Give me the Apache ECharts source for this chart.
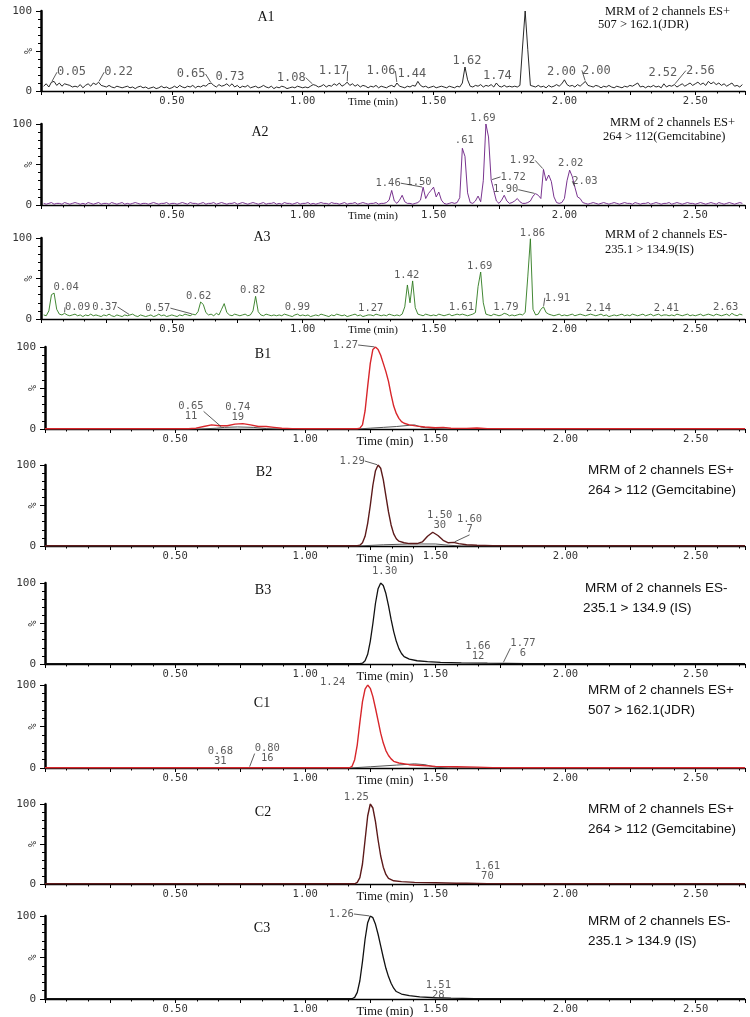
<!DOCTYPE html>
<html><head><meta charset="utf-8">
<script src="https://cdn.jsdelivr.net/npm/echarts@6/dist/echarts.min.js"></script>
<style>html,body{margin:0;padding:0;background:#fff}#c{width:750px;height:1017px}</style>
</head><body><div id="c"></div>
<script>
// ---------------- DATA ----------------
const T_MIN = 0, T_MAX = 2.69;
const SAMPLE_START = 0.01, SAMPLE_STEP = 0.01;
const xTickLabelValues = [0.5, 1.0, 1.5, 2.0, 2.5];
const yTickLabelValues = [0, 100];
const panelIds = ['A1','A2','A3','B1','B2','B3','C1','C2','C3'];
const channelTexts = [
  ['MRM of 2 channels ES+', '507 > 162.1(JDR)'],
  ['MRM of 2 channels ES+', '264 > 112(Gemcitabine)'],
  ['MRM of 2 channels ES-', '235.1 > 134.9(IS)'],
  null,
  ['MRM of 2 channels ES+', '264 > 112 (Gemcitabine)'],
  ['MRM of 2 channels ES-', '235.1 > 134.9 (IS)'],
  ['MRM of 2 channels ES+', '507 > 162.1(JDR)'],
  ['MRM of 2 channels ES+', '264 > 112 (Gemcitabine)'],
  ['MRM of 2 channels ES-', '235.1 > 134.9 (IS)']
];

// A panels: intensity (%) sampled every 0.01 min from 0.01 min
const A1_values = [
  6,9,5,11,12,7,10,6,9,8,   7,5,6,5,8,4,7,9,6,10,   8,11,7,6,5,7,5,4,6,5,
  4,5,6,4,5,3,5,6,4,5,   3,4,5,3,4,6,4,5,3,4,   6,4,7,5,4,6,5,7,4,6,
  5,7,6,9,10,7,5,8,6,7,   9,6,9,5,7,4,6,5,7,4,   5,6,4,5,7,5,4,6,3,5,
  4,6,5,3,4,5,4,6,5,4,   5,4,6,8,7,5,6,8,5,7,   6,9,7,10,6,8,11,7,9,6,
  8,5,7,6,4,6,5,7,4,6,   5,4,6,7,5,10,6,5,4,6,   5,7,6,12,7,5,6,4,5,6,
  4,5,6,5,4,6,5,4,6,5,   10,30,14,6,5,7,6,8,5,7,   6,8,5,10,6,5,7,5,6,5,
  6,5,7,55,100,52,7,6,5,7,   5,6,4,7,5,6,8,6,9,14,   8,6,7,5,8,6,9,12,7,6,
  5,7,6,4,6,5,7,5,4,6,   5,4,6,5,7,6,8,10,5,6,   4,6,5,7,5,6,4,9,5,7,
  6,8,5,7,9,6,8,10,7,9,   11,8,10,7,12,9,11,8,10,7,   9,6,8,10,6,7,5,8
];
const A2_values = [
  2,1,2,3,1,2,2,1,3,2,   1,2,3,2,1,2,1,3,2,1,   2,3,1,2,2,1,3,2,1,2,
  3,1,2,1,2,3,2,1,2,2,   1,2,3,2,1,2,2,3,1,2,   2,1,2,3,2,1,3,2,2,1,
  2,3,1,2,2,3,1,2,3,2,   1,2,2,3,1,2,3,2,1,2,   3,2,1,2,3,1,2,2,3,1,
  2,1,3,2,2,1,2,3,1,2,   2,3,1,2,1,2,3,2,2,1,   3,2,2,1,2,3,1,2,2,3,
  1,2,3,2,1,2,2,3,1,2,   2,3,6,18,5,2,6,12,4,2,   2,1,2,3,6,22,8,14,18,22,
  10,16,6,2,1,2,3,2,3,9,   70,60,15,3,2,5,11,4,30,100,   84,31,18,5,2,6,12,5,2,3,
  5,8,4,2,2,3,5,11,14,12,   8,44,30,37,29,10,3,2,3,8,   30,43,35,22,10,8,3,2,1,2,
  3,2,1,2,3,2,1,2,3,2,   1,2,3,2,2,1,3,2,1,2,   2,3,1,2,3,2,1,2,2,3,
  1,2,3,2,1,2,3,2,2,1,   2,3,2,1,2,3,2,1,3,2,   1,2,3,2,1,2,3,2
];
const A3_values = [
  5,4,10,30,32,12,6,5,7,5,   4,5,6,4,5,3,5,4,6,4,   5,4,3,5,4,6,4,3,5,4,
  3,5,4,5,6,4,3,5,4,3,   4,5,3,4,6,4,5,3,4,5,   4,3,5,4,6,5,4,6,5,9,
  21,18,8,5,6,4,7,5,12,19,   8,5,4,6,5,4,5,6,4,5,   10,28,9,5,4,6,5,4,5,4,
  5,4,6,5,4,3,5,6,4,5,   4,5,3,4,5,4,6,5,4,3,   5,4,6,5,4,5,3,4,5,6,
  4,5,3,4,5,5,4,6,5,4,   5,4,6,5,4,5,4,6,15,42,   20,47,14,6,5,4,6,5,4,5,
  4,6,5,4,5,6,4,5,6,5,   6,5,4,5,6,8,40,58,20,6,   5,4,6,5,4,5,7,6,4,5,
  4,5,6,5,8,52,99,12,5,6,   12,15,8,6,5,4,5,6,4,5,   4,5,6,4,5,6,5,4,5,6,
  5,4,5,6,4,5,3,4,5,4,   5,6,4,5,4,6,5,4,5,6,   4,5,6,4,5,6,4,5,5,4,
  5,4,6,5,4,5,6,4,5,4,   5,6,4,5,6,5,4,6,5,4,   5,6,4,7,5,4,6,5
];

// B / C panels: [time (min), intensity (%)]
const B1_red = [[0,0.3],[0.55,0.3],[0.58,1],[0.61,3],[0.64,5],[0.67,4],[0.70,4],[0.73,6],[0.76,6.5],[0.79,5],[0.82,3],[0.85,3],[0.88,2],[0.91,1],[0.95,0.5],[1.00,0.3],[1.20,0.3],[1.21,1],[1.22,5],[1.23,22],[1.24,52],[1.25,80],[1.26,97],[1.27,100],[1.28,97],[1.29,90],[1.30,80],[1.31,70],[1.32,58],[1.33,42],[1.34,28],[1.35,19],[1.36,13],[1.37,9],[1.38,7],[1.40,5],[1.43,3.5],[1.46,2.5],[1.50,1.5],[1.53,2],[1.56,1],[1.62,0.8],[1.66,1.2],[1.70,0.5],[1.80,0.3],[2.69,0.3]];
const B1_black = [[0,0],[0.60,0],[0.66,1],[0.69,2],[0.74,2.5],[0.80,2],[0.85,0.5],[0.90,0],[1.20,0],[1.25,1],[1.30,2],[1.35,3],[1.40,4.5],[1.42,5],[1.45,2],[1.50,0.5],[1.55,0],[2.69,0]];
const B2_main = [[0,0.3],[1.20,0.3],[1.21,1],[1.22,4],[1.23,12],[1.24,28],[1.25,50],[1.26,75],[1.27,93],[1.28,100],[1.29,96],[1.30,82],[1.31,62],[1.32,42],[1.33,26],[1.34,15],[1.35,9],[1.36,6],[1.38,4],[1.40,3],[1.43,3],[1.45,5],[1.47,12],[1.49,17],[1.51,13],[1.53,7],[1.55,4],[1.57,4.5],[1.59,3],[1.62,1.5],[1.66,1],[1.72,0.5],[1.80,0.3],[2.69,0.3]];
const B2_black = [[0,0],[1.20,0],[1.30,1.5],[1.40,2.5],[1.50,2.5],[1.55,1],[1.60,0],[2.69,0]];
const B3_main = [[0,0.3],[1.21,0.3],[1.22,1],[1.23,4],[1.24,12],[1.25,28],[1.26,50],[1.27,75],[1.28,93],[1.29,100],[1.30,97],[1.31,87],[1.32,72],[1.33,55],[1.34,40],[1.35,28],[1.36,19],[1.37,13],[1.38,9],[1.40,6],[1.43,4],[1.47,3],[1.52,2],[1.60,1.5],[1.70,1],[1.77,0.8],[1.85,0.3],[2.69,0.3]];
const C1_red = [[0,0.3],[1.17,0.3],[1.18,2],[1.19,10],[1.20,28],[1.21,55],[1.22,80],[1.23,95],[1.24,100],[1.25,96],[1.26,86],[1.27,72],[1.28,57],[1.29,42],[1.30,30],[1.31,21],[1.32,15],[1.33,11],[1.34,8],[1.36,6],[1.40,4],[1.45,3],[1.50,2],[1.58,1.5],[1.66,1],[1.72,0.5],[1.80,0.3],[2.69,0.3]];
const C1_black = [[0,0],[1.17,0],[1.25,1.5],[1.35,3.5],[1.42,5],[1.46,4],[1.50,1],[1.55,0],[2.69,0]];
const C2_main = [[0,0.3],[1.19,0.3],[1.20,2],[1.21,8],[1.22,25],[1.23,55],[1.24,85],[1.25,100],[1.26,95],[1.27,78],[1.28,55],[1.29,35],[1.30,21],[1.31,12],[1.32,7],[1.34,4],[1.37,3],[1.42,2],[1.50,1.5],[1.58,1],[1.62,1],[1.70,0.5],[1.80,0.3],[2.69,0.3]];
const C3_main = [[0,0.3],[1.18,0.3],[1.19,2],[1.20,8],[1.21,22],[1.22,45],[1.23,72],[1.24,92],[1.25,100],[1.26,98],[1.27,90],[1.28,78],[1.29,64],[1.30,50],[1.31,37],[1.32,27],[1.33,19],[1.34,13],[1.35,9],[1.37,6],[1.40,4],[1.44,2.5],[1.50,1.5],[1.56,1],[1.65,0.5],[1.75,0.3],[2.69,0.3]];

// Peak annotations: [time, intensity, text]
const A1_peaks = [[0.04,11,'0.05'],[0.22,11,'0.22'],[0.65,10,'0.65'],[0.73,9,'0.73'],[1.04,8,'1.08'],[1.17,11,'1.17'],[1.36,10,'1.06'],[1.44,12,'1.44'],[1.62,30,'1.62'],[1.74,10,'1.74'],[2.00,14,'2.00'],[2.08,12,'2.00'],[2.38,9,'2.52'],[2.42,8,'2.56']];
const A2_peaks = [[1.46,22,'1.46'],[1.49,18,'1.50'],[1.61,70,'.61'],[1.70,100,'1.69'],[1.72,31,'1.72'],[1.89,14,'1.90'],[1.92,44,'1.92'],[2.02,43,'2.02'],[2.04,22,'2.03']];
const A3_peaks = [[0.05,32,'0.04'],[0.09,7,'0.09'],[0.34,5,'0.37'],[0.58,6,'0.57'],[0.61,21,'0.62'],[0.82,28,'0.82'],[0.98,6,'0.99'],[1.26,5,'1.27'],[1.42,47,'1.42'],[1.61,6,'1.61'],[1.68,58,'1.69'],[1.78,6,'1.79'],[1.87,99,'1.86'],[1.92,15,'1.91'],[2.13,5,'2.14'],[2.39,5,'2.41'],[2.62,6,'2.63']];
const B1_peaks = [[0.68,2,'0.65\n11'],[0.76,6.5,'0.74\n19'],[1.27,100,'1.27']];
const B2_peaks = [[1.28,100,'1.29'],[1.49,17,'1.50\n30'],[1.57,4.5,'1.60\n7']];
const B3_peaks = [[1.29,100,'1.30'],[1.66,1,'1.66\n12'],[1.76,1,'1.77\n6']];
const C1_peaks = [[1.24,100,'1.24'],[0.67,0.5,'0.68\n31'],[0.785,0.5,'0.80\n16']];
const C2_peaks = [[1.25,100,'1.25'],[1.70,0.5,'1.61\n70']];
const C3_peaks = [[1.25,100,'1.26'],[1.50,1.5,'1.51\n28']];

// ---------------- LAYOUT / STYLE ----------------
// label text-centre offsets from the peak (px) and leader flag
const A1_off = [[20,-10,1],[20,-10,1],[-20,-9,1],[-2,-7,0],[-22,-7,1],[-14,-11,1],[-16,-12,1],[-6,-8,0],[2,-6,0],[1,-7,0],[-3,-8,0],[11,-11,1],[-1,-11,0],[26,-14,1]];
const A2_off = [[-35,-4,1],[-12,-8,0],[2,-8,0],[-3,-6,0],[22,-3,1],[-30,-4,1],[-21,-9,1],[1,-7,0],[10,-6,1]];
const A3_off = [[12,-6,0],[13,-6,1],[-25,-8,1],[-35,-6,1],[-2,-6,0],[-3,-6,0],[0,-7,0],[0,-7,0],[-6,-6,0],[-1,-7,0],[-1,-6,0],[-1,-7,0],[2,-6,0],[14,-9,1],[0,-7,0],[0,-7,0],[-1,-7,0]];
const B1_off = [[-31,-16,1],[-5,-11,0],[-30,-2,1]];
const B2_off = [[-26,-4,1],[7,-12,0],[16,-18,1]];
const B3_off = [[4,-12,0],[1,-12,0],[20,-15,1]];
const C1_off = [[-35,-3,0],[1,-11,0],[18,-14,1]];
const C2_off = [[-14,-7,0],[0,-12,0]];
const C3_off = [[-29,-2,1],[3,-7,0]];

const RED = '#d8262b', MAROON = '#5c1a1a', BLACK = '#111', GRAY = '#555';
const PANELS = [
  {top:11,  h:80, left:41, nameShift:40, nameSize:11, peakFont:12,  id:[266,17],  infoFont:'12.5px "Liberation Serif"', info:[[605,12],[598,25]],
   lines:[{d:A1_values, c:'#111', w:0.9}], peaks:A1_peaks, off:A1_off},
  {top:124, h:81, left:41, nameShift:40, nameSize:11, peakFont:10.5, id:[260,132], infoFont:'12.5px "Liberation Serif"', info:[[610,123],[603,137]],
   lines:[{d:A2_values, c:'#6a1d82', w:0.9}], peaks:A2_peaks, off:A2_off},
  {top:238, h:81, left:41, nameShift:40, nameSize:11, peakFont:10.5, id:[262,237], infoFont:'12.5px "Liberation Serif"', info:[[605,235],[605,250]],
   lines:[{d:A3_values, c:'#2e7a1e', w:0.9}], peaks:A3_peaks, off:A3_off},
  {top:347, h:82, left:45, nameShift:20, nameSize:12.5, peakFont:10.5, id:[263,354], info:null,
   lines:[{d:B1_black, c:GRAY, w:1}, {d:B1_red, c:RED, w:1.4}], peaks:B1_peaks, off:B1_off},
  {top:465, h:81, left:45, nameShift:20, nameSize:12.5, peakFont:10.5, id:[264,472], infoFont:'13.5px "Liberation Sans"', info:[[588,470],[588,490]],
   lines:[{d:B2_black, c:GRAY, w:1}, {d:B2_main, c:MAROON, w:1.4}], peaks:B2_peaks, off:B2_off},
  {top:583, h:81, left:45, nameShift:20, nameSize:12.5, peakFont:10.5, id:[263,590], infoFont:'13.5px "Liberation Sans"', info:[[585,588],[583,608]],
   lines:[{d:B3_main, c:BLACK, w:1.3}], peaks:B3_peaks, off:B3_off},
  {top:685, h:83, left:45, nameShift:20, nameSize:12.5, peakFont:10.5, id:[262,703], infoFont:'13.5px "Liberation Sans"', info:[[588,690],[588,710]],
   lines:[{d:C1_black, c:GRAY, w:1}, {d:C1_red, c:RED, w:1.4}], peaks:C1_peaks, off:C1_off},
  {top:804, h:80, left:45, nameShift:20, nameSize:12.5, peakFont:10.5, id:[263,812], infoFont:'13.5px "Liberation Sans"', info:[[588,809],[588,829]],
   lines:[{d:C2_main, c:MAROON, w:1.4}], peaks:C2_peaks, off:C2_off},
  {top:916, h:83, left:45, nameShift:20, nameSize:12.5, peakFont:10.5, id:[262,928], infoFont:'13.5px "Liberation Sans"', info:[[588,921],[588,941]],
   lines:[{d:C3_main, c:BLACK, w:1.3}], peaks:C3_peaks, off:C3_off}
];

// ---------------- BUILD ----------------
const MONO = '"DejaVu Sans Mono", monospace';
function toPairs(d) {
  if (Array.isArray(d[0])) return d;
  return d.map((v, i) => [+(SAMPLE_START + i * SAMPLE_STEP).toFixed(2), v]);
}
const isLabelVal = (v, list) => list.some(x => Math.abs(x - v) < 1e-6);

const grid = [], xAxis = [], yAxis = [], series = [], graphic = [];
PANELS.forEach((p, i) => {
  grid.push({left: p.left, top: p.top, width: 745 - p.left, height: p.h, containLabel: false, outerBoundsMode: 'none'});
  xAxis.push({
    type: 'value', gridIndex: i, min: T_MIN, max: T_MAX, interval: 0.25,
    axisLine: {show: true, onZero: false, lineStyle: {color: '#000', width: 1.4}},
    axisTick: {show: true, length: 4, lineStyle: {color: '#000', width: 1}},
    minorTick: {show: true, splitNumber: 3, length: 2.5, lineStyle: {color: '#000', width: 1}},
    splitLine: {show: false}, minorSplitLine: {show: false},
    axisLabel: {margin: 5, fontFamily: MONO, fontSize: 10.5, color: '#333',
      formatter: v => isLabelVal(v, xTickLabelValues) ? v.toFixed(2) : ''},
    name: 'Time (min)', nameLocation: 'middle', nameGap: 6, nameMoveOverlap: false,
    nameTextStyle: {fontFamily: '"Liberation Serif", serif', fontSize: p.nameSize, color: '#111',
      verticalAlign: 'top', padding: [0, p.nameShift, 0, 0]}
  });
  yAxis.push({
    type: 'value', gridIndex: i, min: 0, max: 100, interval: 50,
    axisLine: {show: true, lineStyle: {color: '#000', width: 2.5}},
    axisTick: {show: true, length: 5, lineStyle: {color: '#000', width: 1}},
    minorTick: {show: true, splitNumber: 5, length: 3, lineStyle: {color: '#000', width: 1}},
    splitLine: {show: false},
    axisLabel: {margin: 9, fontFamily: MONO, fontSize: 11, color: '#333',
      formatter: v => isLabelVal(v, yTickLabelValues) ? String(v) : ''},
    name: '%', nameLocation: 'middle', nameRotate: 90, nameGap: 7, nameMoveOverlap: false,
    nameTextStyle: {fontFamily: MONO, fontSize: 10, color: '#333'}
  });
  p.lines.forEach((ln, k) => {
    series.push({type: 'line', xAxisIndex: i, yAxisIndex: i, data: toPairs(ln.d), symbol: 'none',
      showSymbol: false, silent: true, z: 3 + k, lineStyle: {color: ln.c, width: ln.w}});
  });
  const off = p.off;
  series.push({
    type: 'scatter', xAxisIndex: i, yAxisIndex: i, symbol: 'circle', symbolSize: 2, silent: true, z: 10,
    itemStyle: {color: 'rgba(0,0,0,0)'},
    data: p.peaks.map((pk, j) => ({value: [pk[0], pk[1]], name: pk[2], labelLine: {show: !!off[j][2]}})),
    label: {show: true, position: 'inside', formatter: '{b}', fontFamily: MONO, fontSize: p.peakFont,
      lineHeight: 10, color: '#333', textBorderWidth: 0},
    labelLine: {show: false, lineStyle: {color: '#333', width: 0.8}},
    labelLayout: prm => ({dx: off[prm.dataIndex][0], dy: off[prm.dataIndex][1]})
  });
  graphic.push({type: 'text', x: p.id[0], y: p.id[1], silent: true,
    style: {text: panelIds[i], font: '14px "Liberation Serif", serif', fill: '#111', align: 'center', verticalAlign: 'middle'}});
  const ct = channelTexts[i];
  if (ct && p.info) {
    ct.forEach((t, k) => graphic.push({type: 'text', x: p.info[k][0], y: p.info[k][1], silent: true,
      style: {text: t, font: p.infoFont, fill: '#111', align: 'left', verticalAlign: 'middle'}}));
  }
});

const chart = echarts.init(document.getElementById('c'), null, {renderer: 'canvas'});
chart.setOption({animation: false, backgroundColor: '#fff', grid, xAxis, yAxis, series, graphic});
</script></body></html>
